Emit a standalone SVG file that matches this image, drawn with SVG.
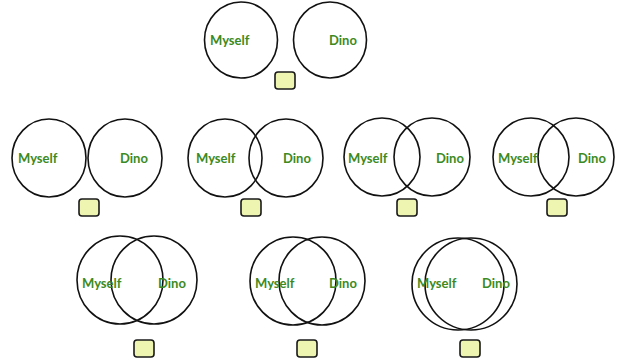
<svg xmlns="http://www.w3.org/2000/svg" width="621" height="364" viewBox="0 0 621 364">
  <style>
    .c { fill: none; stroke: #111; stroke-width: 1.6; }
    .t { font-family: Lato, "Open Sans", "Liberation Sans", sans-serif; font-weight: bold; font-size: 13px; fill: #3d8a22; }
    .b { fill: #eef5b0; stroke: #1a1a1a; stroke-width: 1.6; }
  </style>
  <rect width="621" height="364" fill="#fff"/>

  <!-- top: separate circles -->
  <g id="venn-1">
    <ellipse class="c" cx="241" cy="40" rx="36.5" ry="38"/>
    <ellipse class="c" cx="330" cy="40" rx="36.5" ry="38"/>
    <text class="t" x="210" y="45">Myself</text>
    <text class="t" x="329" y="45">Dino</text>
    <rect class="b" x="275" y="72" width="20" height="17" rx="3"/>
  </g>

  <!-- row 2 -->
  <g id="venn-2">
    <ellipse class="c" cx="49" cy="158" rx="37" ry="39"/>
    <ellipse class="c" cx="125" cy="158" rx="37" ry="39"/>
    <text class="t" x="18" y="163">Myself</text>
    <text class="t" x="120" y="163">Dino</text>
    <rect class="b" x="79" y="199" width="20" height="17" rx="3"/>
  </g>
  <g id="venn-3">
    <ellipse class="c" cx="225" cy="158" rx="37" ry="39"/>
    <ellipse class="c" cx="286" cy="158" rx="37" ry="39"/>
    <text class="t" x="196" y="163">Myself</text>
    <text class="t" x="283" y="163">Dino</text>
    <rect class="b" x="241" y="199" width="20" height="17" rx="3"/>
  </g>
  <g id="venn-4">
    <ellipse class="c" cx="382" cy="157" rx="38" ry="39"/>
    <ellipse class="c" cx="432" cy="157" rx="38" ry="39"/>
    <text class="t" x="348" y="163">Myself</text>
    <text class="t" x="436" y="163">Dino</text>
    <rect class="b" x="397" y="199" width="20" height="17" rx="3"/>
  </g>
  <g id="venn-5">
    <ellipse class="c" cx="531" cy="157" rx="38" ry="39"/>
    <ellipse class="c" cx="576" cy="157" rx="38" ry="39"/>
    <text class="t" x="498" y="163">Myself</text>
    <text class="t" x="578" y="163">Dino</text>
    <rect class="b" x="547" y="199" width="20" height="17" rx="3"/>
  </g>

  <!-- row 3 -->
  <g id="venn-6">
    <ellipse class="c" cx="120" cy="280" rx="43" ry="44"/>
    <ellipse class="c" cx="154" cy="280" rx="43" ry="44"/>
    <text class="t" x="82" y="288">Myself</text>
    <text class="t" x="158" y="288">Dino</text>
    <rect class="b" x="134" y="340" width="20" height="17" rx="3"/>
  </g>
  <g id="venn-7">
    <ellipse class="c" cx="293" cy="281" rx="43" ry="44"/>
    <ellipse class="c" cx="322" cy="281" rx="43" ry="44"/>
    <text class="t" x="255" y="288">Myself</text>
    <text class="t" x="329" y="288">Dino</text>
    <rect class="b" x="297" y="340" width="20" height="17" rx="3"/>
  </g>
  <g id="venn-8">
    <ellipse class="c" cx="458" cy="284" rx="46" ry="46"/>
    <ellipse class="c" cx="471" cy="284" rx="46" ry="46"/>
    <text class="t" x="417" y="288">Myself</text>
    <text class="t" x="482" y="288">Dino</text>
    <rect class="b" x="460" y="340" width="20" height="17" rx="3"/>
  </g>
</svg>
